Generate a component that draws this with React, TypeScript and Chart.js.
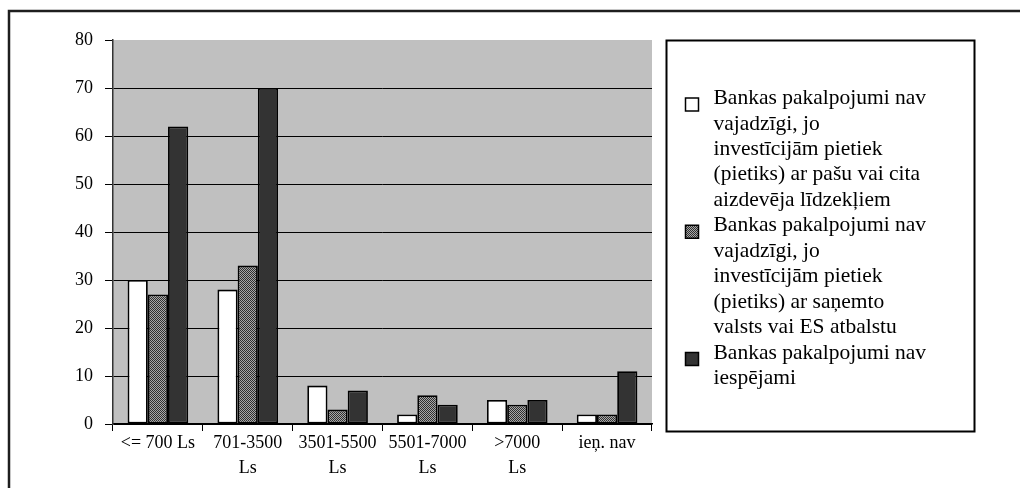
import React, { useEffect, useRef } from 'react';
import { Chart, registerables } from 'chart.js';

Chart.register(...registerables);

// ---- data ----
const categories: string[][] = [
  ['<= 700 Ls'],
  ['701-3500', 'Ls'],
  ['3501-5500', 'Ls'],
  ['5501-7000', 'Ls'],
  ['>7000', 'Ls'],
  ['ieņ. nav'],
];
const seriesOwnFunds = [30, 28, 8, 2, 5, 2];
const seriesStateAid = [27, 33, 3, 6, 4, 2];
const seriesNotPossible = [62, 70, 7, 4, 5, 11];

const legendLines: string[][] = [
  [
    'Bankas pakalpojumi nav',
    'vajadzīgi, jo',
    'investīcijām pietiek',
    '(pietiks) ar pašu vai cita',
    'aizdevēja līdzekļiem',
  ],
  [
    'Bankas pakalpojumi nav',
    'vajadzīgi, jo',
    'investīcijām pietiek',
    '(pietiks) ar saņemto',
    'valsts vai ES atbalstu',
  ],
  ['Bankas pakalpojumi nav', 'iespējami'],
];

const yMin = 0;
const yMax = 80;
const yStep = 10;

const FONT = '"Liberation Serif", "Times New Roman", serif';

function makePattern(): CanvasPattern | string {
  const c = document.createElement('canvas');
  c.width = 2;
  c.height = 2;
  const g = c.getContext('2d');
  if (!g) return '#707070';
  g.fillStyle = '#a8a8a8';
  g.fillRect(0, 0, 2, 2);
  g.fillStyle = '#303030';
  g.fillRect(0, 0, 1, 1);
  g.fillRect(1, 1, 1, 1);
  return g.createPattern(c, 'repeat') || '#707070';
}

const framePlugin = {
  id: 'frameAndLegend',
  beforeDraw(chart: any) {
    const { ctx, chartArea: a } = chart;
    ctx.save();
    ctx.fillStyle = '#ffffff';
    ctx.fillRect(0, 0, chart.width, chart.height);
    ctx.fillStyle = '#c0c0c0';
    ctx.fillRect(a.left, a.top, a.right - a.left, a.bottom - a.top);
    // outer frame
    ctx.strokeStyle = '#1e1e1e';
    ctx.lineWidth = 2.5;
    ctx.strokeRect(9, 11, chart.width + 40, chart.height + 40);
    ctx.restore();
  },
  afterDraw(chart: any) {
    const { ctx, chartArea: a } = chart;
    ctx.save();
    const bx = a.right + 14.5;
    const by = a.top + 0.5;
    const bw = 308;
    const bh = 391;
    ctx.fillStyle = '#ffffff';
    ctx.fillRect(bx, by, bw, bh);
    ctx.strokeStyle = '#000';
    ctx.lineWidth = 2;
    ctx.strokeRect(bx, by, bw, bh);

    const lineH = 25.45;
    let y = by + 58;
    ctx.font = `21.5px ${FONT}`;
    ctx.textBaseline = 'middle';
    ctx.textAlign = 'left';
    chart.data.datasets.forEach((ds: any, i: number) => {
      const lines = legendLines[i];
      const sx = bx + 19;
      const sy = y + 6 - 6.5;
      ctx.fillStyle = ds.backgroundColor;
      ctx.fillRect(sx, sy, 13, 13);
      ctx.strokeStyle = '#000';
      ctx.lineWidth = 1.5;
      ctx.strokeRect(sx, sy, 13, 13);
      ctx.fillStyle = '#000';
      lines.forEach((ln, j) => {
        ctx.fillText(ln, bx + 47, y + j * lineH);
      });
      y += lines.length * lineH;
    });
    ctx.restore();
  },
};

export default function App() {
  const ref = useRef<HTMLCanvasElement | null>(null);

  useEffect(() => {
    if (!ref.current) return;
    const pattern = makePattern();
    const chart = new Chart(ref.current, {
      type: 'bar',
      data: {
        labels: categories,
        datasets: [
          {
            label: legendLines[0].join(' '),
            data: seriesOwnFunds,
            backgroundColor: '#ffffff',
            borderColor: '#000000',
            borderWidth: 1.8,
            borderSkipped: false,
          },
          {
            label: legendLines[1].join(' '),
            data: seriesStateAid,
            backgroundColor: pattern as any,
            borderColor: '#000000',
            borderWidth: 1.8,
            borderSkipped: false,
          },
          {
            label: legendLines[2].join(' '),
            data: seriesNotPossible,
            backgroundColor: '#333333',
            borderColor: '#000000',
            borderWidth: 1.8,
            borderSkipped: false,
          },
        ],
      },
      options: {
        responsive: false,
        animation: false,
        events: [],
        layout: { padding: { left: 0, top: 40, right: 368, bottom: 0 } },
        datasets: {
          bar: { categoryPercentage: 0.675, barPercentage: 1 },
        },
        plugins: {
          legend: { display: false },
          tooltip: { enabled: false },
          title: { display: false },
        },
        scales: {
          x: {
            grid: {
              display: true,
              drawOnChartArea: false,
              drawTicks: true,
              tickLength: 7,
              color: '#000',
              tickColor: '#000',
              offset: true,
            },
            border: { display: true, color: '#000', width: 1.5 },
            ticks: {
              color: '#000',
              font: { family: FONT, size: 18, lineHeight: 1.39 },
              padding: 0,
              maxRotation: 0,
              minRotation: 0,
              autoSkip: false,
            },
            afterFit(s: any) {
              s.height = 64;
            },
          },
          y: {
            min: yMin,
            max: yMax,
            ticks: {
              stepSize: yStep,
              color: '#000',
              padding: 12,
              font: { family: FONT, size: 18 },
            },
            grid: {
              color: (c: any) => (c.tick && c.tick.value === yMax ? 'rgba(0,0,0,0)' : '#000'),
              tickColor: '#000',
              tickLength: 8,
              lineWidth: 1,
            },
            border: { display: true, color: '#333', width: 1.5 },
            afterFit(s: any) {
              s.width = 113;
            },
          },
        },
      },
      plugins: [framePlugin],
    });
    return () => chart.destroy();
  }, []);

  return (
    <div style={{ position: 'fixed', left: 0, top: 0, width: 1020, height: 488, background: '#fff' }}>
      <canvas ref={ref} width={1020} height={488} style={{ display: 'block' }} />
    </div>
  );
}
